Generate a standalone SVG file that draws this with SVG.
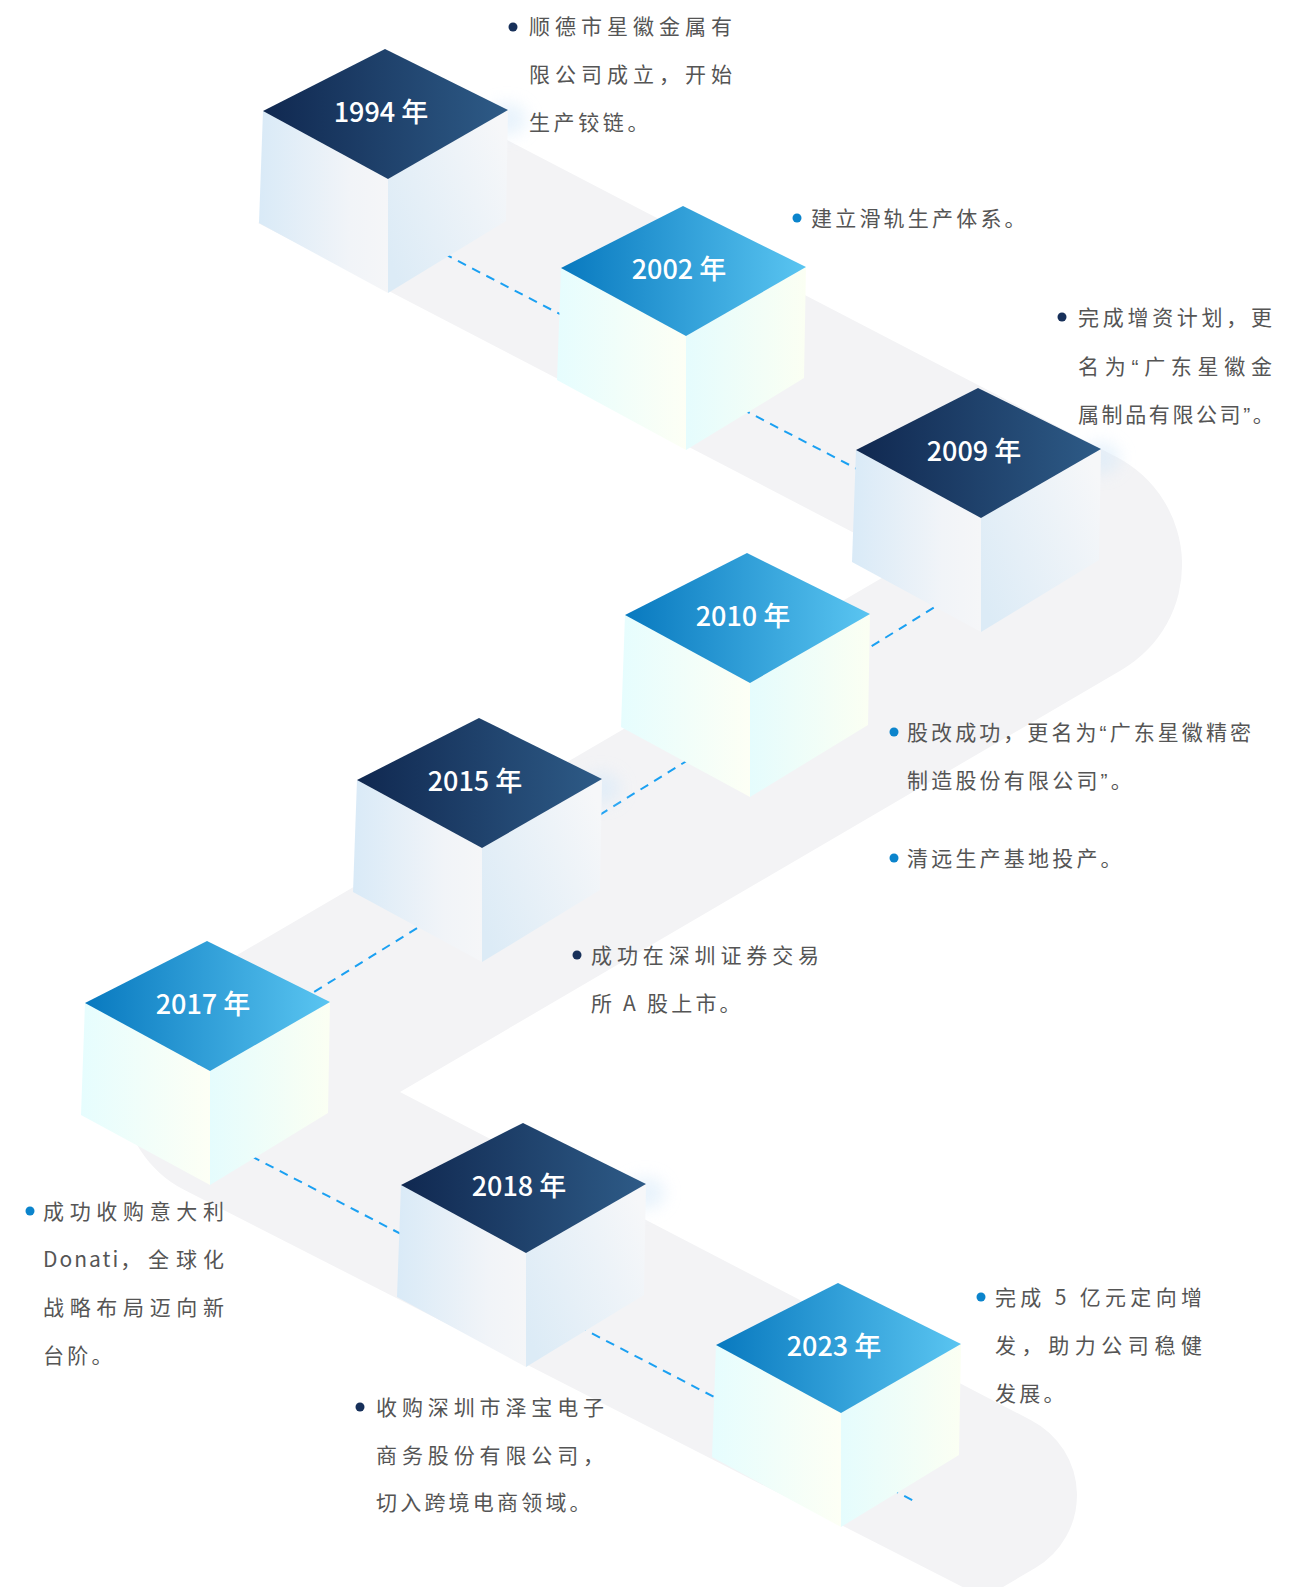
<svg xmlns="http://www.w3.org/2000/svg" xmlns:xlink="http://www.w3.org/1999/xlink" width="1310" height="1587" viewBox="0 0 1310 1587">
<defs>
<style>
.t{font-family:"Noto Sans CJK SC","Noto Sans",sans-serif;font-size:21px;fill:#555555;}
.s{letter-spacing:3.2px;}
.q{font-family:"Liberation Sans",sans-serif;}
.lbl{font-family:"Noto Sans CJK SC","Noto Sans",sans-serif;font-size:27px;font-weight:500;fill:#ffffff;text-anchor:middle;}
.bn{fill:#17305a;}
.bb{fill:#0b84cc;}
.road{fill:#f3f3f5;}
.dash{fill:none;stroke:#1aa0f2;stroke-width:2;stroke-dasharray:9 7;}
</style>
<linearGradient id="gDarkTop" x1="0" y1="0" x2="1" y2="0"><stop offset="0" stop-color="#102850"/><stop offset="1" stop-color="#2e5b87"/></linearGradient>
<linearGradient id="gBlueTop" x1="0" y1="0" x2="1" y2="0"><stop offset="0" stop-color="#0879bf"/><stop offset="1" stop-color="#5ac5f1"/></linearGradient>
<linearGradient id="gDarkL" x1="0" y1="0" x2="1" y2="0"><stop offset="0" stop-color="#d9eaf7"/><stop offset="0.7" stop-color="#f1f4f8"/><stop offset="1" stop-color="#f5f6f8"/></linearGradient>
<linearGradient id="gDarkR" x1="0" y1="0.8" x2="1" y2="0.2"><stop offset="0" stop-color="#dcebf6"/><stop offset="1" stop-color="#f6f7f9"/></linearGradient>
<linearGradient id="gLightL" x1="0" y1="0" x2="1" y2="0"><stop offset="0" stop-color="#e6fdfe"/><stop offset="1" stop-color="#fdfff5"/></linearGradient>
<linearGradient id="gLightR" x1="0" y1="0" x2="1" y2="0"><stop offset="0" stop-color="#e5fcfd"/><stop offset="1" stop-color="#fbfff3"/></linearGradient>
<filter id="blur" x="-1" y="-1" width="3" height="3"><feGaussianBlur stdDeviation="8"/></filter>
<g id="cubeDark">
<ellipse cx="122" cy="70" rx="20" ry="16" fill="#d6e9f9" opacity="0.55" filter="url(#blur)"/>
<path d="M-122,62 L3,130 L3,244 L-126,174 Z" fill="url(#gDarkL)"/>
<path d="M3,130 L123,61 L121,172 L3,244 Z" fill="url(#gDarkR)"/>
<path d="M0,0 L123,61 L3,130 L-122,62 Z" fill="url(#gDarkTop)"/>
</g>
<g id="cubeLight">
<path d="M-122,62 L3,130 L3,244 L-126,174 Z" fill="url(#gLightL)"/>
<path d="M3,130 L123,61 L121,172 L3,244 Z" fill="url(#gLightR)"/>
<path d="M0,0 L123,61 L3,130 L-122,62 Z" fill="url(#gBlueTop)"/>
</g>
</defs>
<rect width="1310" height="1587" fill="#ffffff"/>
<g id="road">
<path class="road" d="M450,110.4 L1116.6,457 A121.5,121.5 0 0 1 1121.9,669.7 L400,1092 L1031.5,1420.4 A84.4,84.4 0 0 1 1035.2,1568.1 L1003,1587 L962.7,1587 L184.5,1190 A114.4,114.4 0 0 1 178.6,989.3 L909.6,561.8 L258,223 Z"/>
</g>
<g id="connectors">
<path class="dash" d="M387,224 L1020.3,554 L141.5,1099 L914,1501"/>
</g>
<g id="node-1994" transform="translate(385,49)"><use xlink:href="#cubeDark"/><text class="lbl" x="-4" y="73">1994 年</text></g>
<g id="node-2002" transform="translate(683,206)"><use xlink:href="#cubeLight"/><text class="lbl" x="-4" y="73">2002 年</text></g>
<g id="node-2009" transform="translate(978,388)"><use xlink:href="#cubeDark"/><text class="lbl" x="-4" y="73">2009 年</text></g>
<g id="node-2010" transform="translate(747,553)"><use xlink:href="#cubeLight"/><text class="lbl" x="-4" y="73">2010 年</text></g>
<g id="node-2015" transform="translate(479,718)"><use xlink:href="#cubeDark"/><text class="lbl" x="-4" y="73">2015 年</text></g>
<g id="node-2017" transform="translate(207,941)"><use xlink:href="#cubeLight"/><text class="lbl" x="-4" y="73">2017 年</text></g>
<g id="node-2018" transform="translate(523,1123)"><use xlink:href="#cubeDark"/><text class="lbl" x="-4" y="73">2018 年</text></g>
<g id="node-2023" transform="translate(838,1283)"><use xlink:href="#cubeLight"/><text class="lbl" x="-4" y="73">2023 年</text></g>
<g id="text-1994">
<circle class="bn" cx="513" cy="27" r="4.5"/>
<text class="t" x="529" y="34" textLength="203" lengthAdjust="spacing">顺德市星徽金属有</text>
<text class="t" x="529" y="82" textLength="203" lengthAdjust="spacing">限公司成立，开始</text>
<text class="t" x="529" y="130" style="letter-spacing:3.6px">生产铰链。</text>
</g>
<g id="text-2002">
<circle class="bb" cx="797" cy="218" r="4.5"/>
<text class="t s" x="811" y="226">建立滑轨生产体系。</text>
</g>
<g id="text-2009">
<circle class="bn" cx="1062" cy="317" r="4.5"/>
<text class="t" x="1078" y="325" textLength="194" lengthAdjust="spacing">完成增资计划，更</text>
<text class="t" x="1078" y="374" textLength="194" lengthAdjust="spacing">名为<tspan class="q">“</tspan>广东星徽金</text>
<text class="t" x="1078" y="422" style="letter-spacing:2.6px">属制品有限公司<tspan class="q">”</tspan>。</text>
</g>
<g id="text-2010">
<circle class="bb" cx="894" cy="732" r="4.5"/>
<text class="t" x="907" y="740" style="letter-spacing:3.07px">股改成功，更名为<tspan class="q">“</tspan>广东星徽精密</text>
<text class="t s" x="907" y="788">制造股份有限公司<tspan class="q">”</tspan>。</text>
<circle class="bb" cx="894" cy="858" r="4.5"/>
<text class="t s" x="907" y="866">清远生产基地投产。</text>
</g>
<g id="text-2015">
<circle class="bn" cx="577" cy="955" r="4.5"/>
<text class="t" x="591" y="963" textLength="228" lengthAdjust="spacing">成功在深圳证券交易</text>
<text class="t s" x="591" y="1011">所 A 股上市。</text>
</g>
<g id="text-2017">
<circle class="bb" cx="30" cy="1211" r="4.5"/>
<text class="t" x="43" y="1219" textLength="181" lengthAdjust="spacing">成功收购意大利</text>
<text class="t" x="43" y="1267"><tspan style="letter-spacing:2px">Donati，</tspan><tspan x="148">全</tspan><tspan x="176">球</tspan><tspan x="203">化</tspan></text>
<text class="t" x="43" y="1315" textLength="181" lengthAdjust="spacing">战略布局迈向新</text>
<text class="t s" x="43" y="1363">台阶。</text>
</g>
<g id="text-2018">
<circle class="bn" cx="360" cy="1407" r="4.5"/>
<text class="t" x="376" y="1415" textLength="228" lengthAdjust="spacing">收购深圳市泽宝电子</text>
<text class="t" x="376" y="1463" textLength="228" lengthAdjust="spacing">商务股份有限公司，</text>
<text class="t s" x="376" y="1510">切入跨境电商领域。</text>
</g>
<g id="text-2023">
<circle class="bb" cx="981" cy="1297" r="4.5"/>
<text class="t" x="995" y="1305" textLength="207" lengthAdjust="spacing">完成 5 亿元定向增</text>
<text class="t" x="995" y="1353" textLength="207" lengthAdjust="spacing">发，助力公司稳健</text>
<text class="t s" x="995" y="1401">发展。</text>
</g>
</svg>
